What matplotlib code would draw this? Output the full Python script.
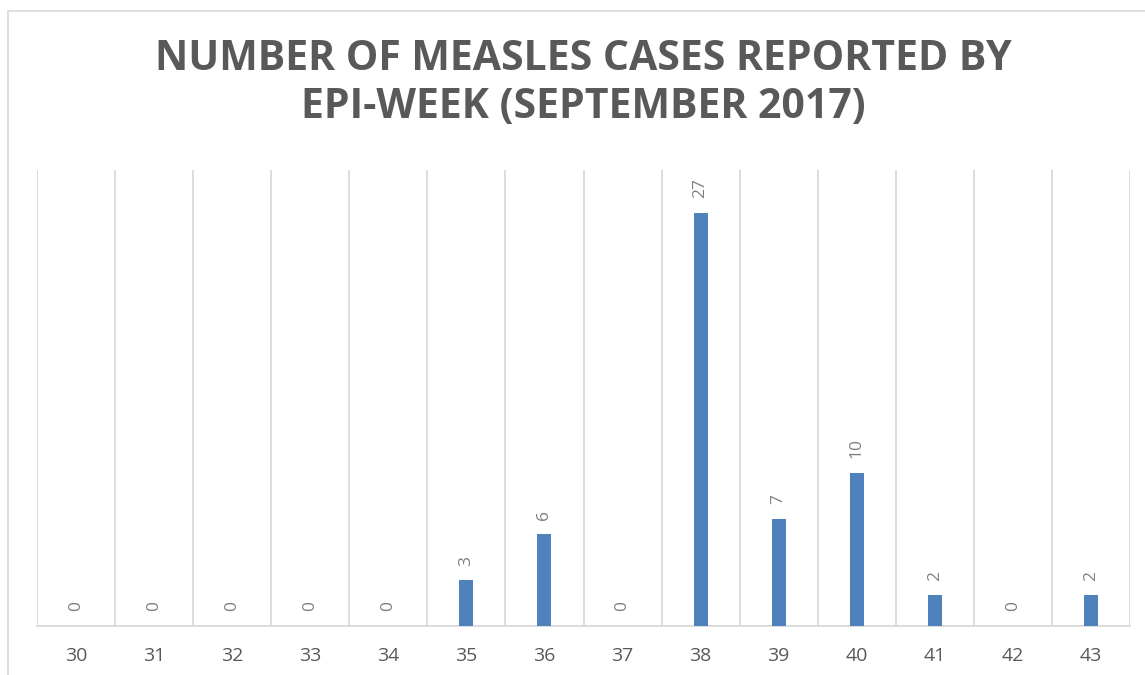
import matplotlib
matplotlib.use("Agg")
import matplotlib.pyplot as plt
from matplotlib.patches import Rectangle
import numpy as np

weeks = ["30", "31", "32", "33", "34", "35", "36", "37", "38", "39", "40", "41", "42", "43"]
cases = [0, 0, 0, 0, 0, 3, 6, 0, 27, 7, 10, 2, 0, 2]

title_lines = ["NUMBER OF MEASLES CASES REPORTED BY", "EPI-WEEK (SEPTEMBER 2017)"]

W, H = 1145, 675
fig = plt.figure(figsize=(W / 100, H / 100), dpi=100)
fig.patch.set_facecolor("white")

# chart border
fig.patches.append(Rectangle((8 / W, -0.05), 1.2, (H - 11) / H + 0.05, transform=fig.transFigure,
                             fill=False, edgecolor="#D9D9D9", linewidth=1.2))

ax = fig.add_axes([37 / W, (H - 626) / H, (1130 - 37) / W, (626 - 170) / H])
x = np.arange(len(weeks))
ax.bar(x, cases, width=0.18, color="#4F81BD", zorder=3)
ax.set_xlim(-0.5, len(weeks) - 0.5)
ax.set_ylim(0, 29.8)

for xi, v in zip(x, cases):
    ax.annotate(str(v), (xi, v), xytext=(0, 10.5), textcoords="offset points",
                rotation=90, ha="center", va="bottom", fontsize=12.5,
                color="#808080", family="Open Sans")

for b in np.arange(-0.5, len(weeks), 1.0):
    ax.axvline(b, color="#D9D9D9", linewidth=1.3, zorder=1)

for s in ["top", "right", "left"]:
    ax.spines[s].set_visible(False)
ax.spines["bottom"].set_color("#D9D9D9")
ax.spines["bottom"].set_linewidth(1.3)
ax.set_yticks([])
ax.set_xticks(x)
ax.set_xticklabels(weeks, fontsize=14, color="#595959", family="Open Sans")
ax.tick_params(axis="x", length=0, pad=15)

fig.text(583 / W, 1 - 60 / H, title_lines[0], ha="center", va="center", fontsize=29.5,
         fontweight="bold", color="#595959", family="Open Sans")
fig.text(583 / W, 1 - 107 / H, title_lines[1], ha="center", va="center", fontsize=29.5,
         fontweight="bold", color="#595959", family="Open Sans")

fig.savefig("out.png", dpi=100)
